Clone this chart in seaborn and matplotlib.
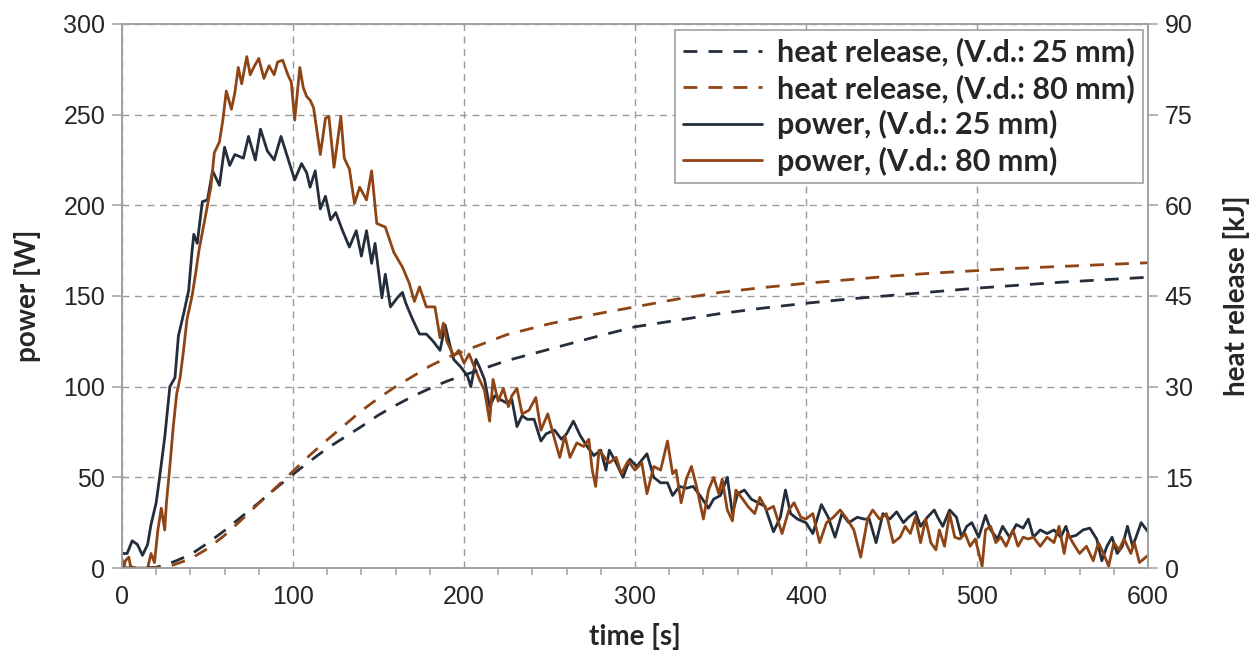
import numpy as np
import pandas as pd
import matplotlib
matplotlib.use("Agg")
import matplotlib.pyplot as plt
from matplotlib.ticker import MultipleLocator
import seaborn as sns

# power, V.d. 25 mm
t_p25 = [0, 3, 6, 9, 12, 15, 17, 20, 22, 25, 28, 31, 33, 36, 39, 41, 42, 44, 47, 50,
         53, 57, 60, 63, 66, 71, 74, 78, 81, 85, 89, 93, 96, 101, 105, 108, 110, 113, 116, 119,
         122, 125, 129, 133, 137, 140, 143, 146, 148, 152, 154, 157, 161, 164, 166, 170, 174, 178, 182, 186,
         189, 192, 194, 198, 202, 204, 207, 209, 212, 215, 218, 221, 225, 228, 231, 234, 237, 241, 245, 248,
         253, 257, 260, 264, 268, 272, 276, 280, 283, 285, 289, 293, 297, 301, 307, 311, 315, 319, 322, 326,
         330, 334, 338, 343, 346, 350, 354, 357, 360, 364, 368, 372, 376, 381, 385, 388, 391, 395, 400, 404,
         409, 413, 417, 421, 425, 430, 434, 437, 441, 445, 449, 453, 457, 460, 464, 467, 471, 475, 477, 480,
         484, 488, 491, 494, 497, 501, 505, 508, 512, 515, 519, 523, 527, 530, 533, 537, 541, 545, 549, 552,
         554, 558, 562, 566, 570, 573, 576, 579, 582, 585, 588, 591, 593, 596, 600]
p25 = [8, 8, 15, 13, 7, 13, 24, 36, 50, 72, 100, 105, 128, 140, 153, 175, 184, 179, 202, 203,
       219, 211, 232, 222, 228, 226, 238, 225, 242, 230, 225, 238, 229, 214, 223, 218, 210, 219, 198, 205,
       192, 196, 186, 177, 186, 172, 186, 168, 179, 149, 162, 144, 149, 152, 146, 137, 129, 129, 125, 120,
       134, 122, 115, 111, 106, 100, 115, 111, 104, 89, 95, 93, 91, 93, 78, 84, 82, 82, 70, 74,
       76, 71, 74, 81, 73, 67, 62, 65, 54, 65, 58, 50, 60, 56, 63, 50, 47, 47, 40, 45,
       44, 45, 40, 33, 38, 40, 50, 30, 41, 43, 38, 36, 34, 20, 28, 43, 30, 27, 25, 19,
       35, 28, 17, 30, 25, 28, 27, 27, 14, 30, 27, 31, 25, 28, 31, 23, 28, 32, 28, 23,
       32, 28, 17, 23, 25, 17, 29, 21, 16, 23, 17, 24, 22, 27, 17, 21, 19, 21, 17, 23,
       17, 18, 21, 22, 16, 4, 12, 17, 8, 12, 23, 12, 17, 25, 20]

# power, V.d. 80 mm
t_p80 = [0, 1, 2, 4, 5, 7, 10, 15, 17, 19, 21, 23, 25, 26, 28, 30, 32, 34, 36, 38,
         41, 43, 45, 47, 50, 52, 54, 57, 59, 61, 64, 66, 68, 70, 73, 75, 77, 80, 83, 86,
         89, 91, 94, 97, 99, 101, 104, 106, 108, 110, 112, 116, 119, 121, 124, 128, 130, 133, 136, 139,
         143, 146, 149, 154, 159, 164, 168, 171, 174, 178, 183, 186, 188, 190, 194, 197, 200, 203, 206, 209,
         212, 215, 217, 220, 223, 226, 228, 231, 234, 238, 242, 245, 249, 253, 256, 259, 262, 266, 270, 273,
         275, 277, 279, 283, 285, 289, 292, 296, 300, 304, 307, 311, 315, 319, 322, 324, 327, 330, 333, 336,
         338, 340, 343, 346, 349, 351, 354, 357, 359, 363, 366, 370, 373, 377, 381, 386, 390, 393, 397, 400,
         404, 408, 412, 416, 420, 424, 428, 432, 436, 439, 443, 447, 451, 455, 458, 461, 464, 467, 470, 473,
         476, 478, 481, 484, 487, 490, 493, 496, 499, 503, 505, 508, 511, 514, 517, 521, 524, 527, 530, 533,
         537, 541, 545, 548, 551, 553, 556, 560, 564, 568, 571, 574, 577, 580, 583, 586, 590, 592, 595, 600]
p80 = [5, 0, 4, 6, 1, 0, 0, 0, 8, 3, 21, 33, 21, 36, 56, 78, 96, 105, 120, 137,
       150, 162, 175, 185, 200, 210, 229, 235, 247, 263, 253, 262, 276, 267, 282, 272, 276, 281, 270, 277,
       272, 279, 280, 272, 268, 247, 276, 265, 260, 258, 254, 228, 248, 249, 221, 249, 226, 220, 201, 210,
       203, 219, 190, 188, 174, 166, 157, 147, 155, 144, 144, 127, 135, 125, 117, 120, 113, 118, 111, 104,
       98, 81, 104, 92, 99, 89, 95, 99, 85, 87, 94, 76, 85, 71, 61, 73, 61, 69, 67, 71,
       54, 45, 65, 60, 58, 61, 52, 59, 54, 58, 41, 56, 54, 70, 52, 54, 36, 49, 56, 45,
       36, 27, 43, 50, 41, 49, 32, 26, 43, 38, 34, 30, 39, 32, 34, 19, 32, 36, 28, 27,
       30, 14, 25, 28, 32, 27, 21, 6, 27, 32, 27, 30, 14, 17, 23, 19, 28, 14, 27, 14,
       10, 21, 12, 30, 17, 16, 19, 12, 16, 1, 21, 23, 14, 17, 12, 21, 12, 17, 16, 17,
       12, 17, 14, 23, 8, 19, 14, 8, 12, 4, 14, 8, 1, 14, 10, 16, 8, 14, 3, 7]

# heat release [kJ]
t_hr = [0, 10, 20, 30, 40, 50, 60, 70, 80, 90, 100, 110, 120, 130, 140, 150, 160, 170, 180, 190,
        200, 225, 250, 275, 300, 325, 350, 375, 400, 425, 450, 475, 500, 525, 550, 575, 600]
hr25 = [0, 0, 0.1, 1.0, 2.2, 4.1, 6.2, 8.5, 10.8, 13.2, 15.5, 17.7, 19.8, 21.6, 23.4, 25.3, 26.9, 28.4, 29.7, 30.9,
        31.9, 34.3, 36.2, 38.1, 39.9, 41.0, 42.1, 43.0, 43.8, 44.5, 45.1, 45.7, 46.3, 46.8, 47.3, 47.7, 48.1]
hr80 = [0, 0, 0, 0.5, 1.5, 3.2, 5.4, 8.0, 10.7, 13.3, 16.0, 18.7, 21.2, 23.6, 26.0, 28.1, 30.0, 31.7, 33.4, 34.8,
        35.9, 38.6, 40.4, 41.9, 43.2, 44.5, 45.6, 46.4, 47.1, 47.7, 48.3, 48.8, 49.2, 49.6, 49.9, 50.2, 50.5]

c25 = "#242d3b"
c80 = "#8e4414"

sns.set_style("white")
plt.rcParams["font.family"] = ["Liberation Sans", "DejaVu Sans"]
lab_font = {"family": "Lato", "weight": "bold", "size": 20}

fig = plt.figure(figsize=(12.6, 6.55), dpi=100)
ax = fig.add_axes([0.0968, 0.1328, 0.8143, 0.8306])
ax2 = ax.twinx()

sns.lineplot(x=t_hr, y=hr25, ax=ax2, color=c25, linewidth=2.0,
             label="heat release, (V.d.: 25 mm)")
sns.lineplot(x=t_hr, y=hr80, ax=ax2, color=c80, linewidth=2.0,
             label="heat release, (V.d.: 80 mm)")
for l in ax2.get_lines():
    l.set_dashes((5, 4))

sns.lineplot(x=t_p25, y=p25, ax=ax, color=c25, linewidth=2.0, label="power, (V.d.: 25 mm)")
sns.lineplot(x=t_p80, y=p80, ax=ax, color=c80, linewidth=2.0, label="power, (V.d.: 80 mm)")

ax.set_xlim(0, 600)
ax.set_ylim(0, 300)
ax2.set_ylim(0, 90)
ax.xaxis.set_major_locator(MultipleLocator(100))
ax.xaxis.set_minor_locator(MultipleLocator(20))
ax.yaxis.set_major_locator(MultipleLocator(50))
ax2.yaxis.set_major_locator(MultipleLocator(15))

ax.grid(True, which="major", color="#9a9a9a", linestyle=(0, (5, 4)), linewidth=1.0)
for a in (ax, ax2):
    for s in a.spines.values():
        s.set_color("#a0a0a0")
        s.set_linewidth(1.2)
ax.tick_params(axis="both", which="major", direction="out", length=7, width=1.1,
               color="#a0a0a0", labelsize=18, pad=5)
ax.tick_params(axis="x", which="minor", direction="out", length=5, width=1.1,
               color="#a0a0a0", bottom=True)
ax2.tick_params(axis="y", direction="out", length=7, width=1.1, color="#a0a0a0",
                labelsize=18, pad=5)

ax.set_xlabel("time [s]", fontdict=lab_font, labelpad=10)
ax.set_ylabel("power [W]", fontdict=lab_font, labelpad=16)
ax2.set_ylabel("heat release [kJ]", fontdict=lab_font, labelpad=22)

h2, l2 = ax2.get_legend_handles_labels()
h1, l1 = ax.get_legend_handles_labels()
ax.get_legend().remove()
ax2.get_legend().remove()
leg = ax2.legend(h2 + h1, l2 + l1, loc="upper right", bbox_to_anchor=(0.995, 0.989),
                 borderaxespad=0, frameon=True, fancybox=False, edgecolor="#a0a0a0",
                 framealpha=1, handlelength=2.6, handletextpad=0.5, borderpad=0.25,
                 labelspacing=0.24, prop={"family": "Lato", "weight": "bold", "size": 22})
leg.get_frame().set_linewidth(1.2)

fig.savefig("out.png", dpi=100)
